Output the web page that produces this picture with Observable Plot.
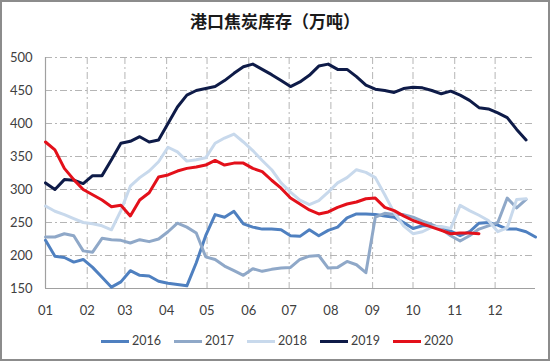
<!DOCTYPE html>
<html><head><meta charset="utf-8">
<script src="https://cdn.jsdelivr.net/npm/d3@7"></script>
<script src="https://cdn.jsdelivr.net/npm/@observablehq/plot@0.6"></script>
<style>
body{margin:0;background:#fff;}
#page{position:relative;width:550px;height:361px;overflow:hidden;background:#fff;font-family:Lato,"Noto Sans",sans-serif;}
#border{position:absolute;left:0;top:0;width:550px;height:361px;box-sizing:border-box;border:2px solid #8c8c8c;pointer-events:none;}
#title{position:absolute;top:11px;left:0;width:550px;text-align:center;font:bold 17px/20px "Noto Sans CJK SC",sans-serif;color:#1a1a1a;}
#chart{position:absolute;top:40px;left:0;}
#legend{position:absolute;top:333px;left:2px;width:550px;display:flex;justify-content:center;gap:13px;font:12.5px/16px Lato,"Noto Sans",sans-serif;color:#404040;}
.item{display:flex;align-items:center;}
.sw{width:28px;height:3px;margin-right:3px;}
</style></head>
<body><div id="page"><div id="title"></div><div id="chart"></div><div id="legend"></div><div id="border"></div></div>
<script>
const titleText = "港口焦炭库存（万吨）";
const seriesNames = ["2016","2017","2018","2019","2020"];
const seriesColors = ["#4f80c0","#8fa8c8","#c8d9ec","#0e1b48","#e3101a"];
const monthLabels = ["01","02","03","04","05","06","07","08","09","10","11","12"];
const yTicks = [150,200,250,300,350,400,450,500];

// weekly values (week 0 = Jan 1)
const v2016 = [223,199,197,190,194,182,167,152,160,177,170,169,161,158,156,154,189,230,262,258,267,248,243,240,240,239,230,229,239,230,238,243,257,263,263,262,260,258,250,241,245,245,243,237,230,236,249,250,246,240,240,236,228];
const v2017 = [228,228,233,230,207,205,226,224,223,219,224,221,225,236,249,243,234,198,194,184,177,170,180,176,179,181,182,194,199,200,181,182,191,186,174,258,264,262,262,258,252,247,240,230,222,230,240,245,250,287,272,285];
const v2018 = [275,267,262,256,250,248,245,239,268,305,318,328,342,364,357,343,345,348,370,378,384,372,359,344,330,310,296,284,277,283,296,310,318,330,326,318,292,265,245,233,236,243,244,241,276,268,261,253,236,242,285,286];
const v2019 = [310,300,315,314,309,321,321,345,370,373,380,372,375,400,425,443,450,453,456,465,476,486,490,482,474,465,456,463,473,487,490,482,482,471,458,452,450,447,453,455,454,450,445,449,443,435,424,422,416,409,391,375];
const v2020 = [372,360,332,315,300,292,284,274,276,260,284,295,319,322,328,332,334,337,344,337,340,340,332,327,314,302,287,278,269,263,266,273,278,281,286,287,273,268,260,253,248,243,238,233,234,234,233];

const valueLists = [v2016, v2017, v2018, v2019, v2020];
const dayMs = 86400000;
const yearStart = Date.UTC(2019,0,1);
const table = [];
seriesNames.forEach((s, k) => {
  valueLists[k].forEach((v, i) => table.push({series: s, date: new Date(yearStart + i*7*dayMs), value: v}));
});
const monthDates = monthLabels.map((m, i) => new Date(Date.UTC(2019, i, 1)));
const xStart = new Date(yearStart), xEnd = new Date(Date.UTC(2019,11,31));

document.getElementById("title").textContent = titleText;

const chart = Plot.plot({
  width: 550, height: 285,
  marginTop: 17, marginBottom: 37, marginLeft: 45, marginRight: 15,
  style: {fontFamily: "Lato, 'Noto Sans', sans-serif", fontSize: "13px", color: "#404040", background: "transparent"},
  x: {type: "utc", domain: [xStart, xEnd]},
  y: {domain: [150, 500]},
  color: {domain: seriesNames, range: seriesColors},
  marks: [
    Plot.gridY(yTicks.slice(1), {stroke: "#b5b5b5", strokeOpacity: 1, strokeDasharray: "7,3,2,3"}),
    Plot.gridX(monthDates.slice(1), {stroke: "#b5b5b5", strokeOpacity: 1, strokeDasharray: "7,3,2,3"}),
    Plot.ruleY([150], {stroke: "#a0a0a0", strokeWidth: 1.2}),
    Plot.ruleX([xStart], {stroke: "#a0a0a0", strokeWidth: 1.2}),
    Plot.axisY(yTicks, {tickSize: 0, tickPadding: 13, label: null, fontSize: 13}),
    Plot.axisX(monthDates, {tickSize: 0, tickPadding: 17, label: null, fontSize: 13, tickFormat: d => monthLabels[d.getUTCMonth()]}),
    Plot.line(table, {x: "date", y: "value", z: "series", stroke: "series", strokeWidth: 3, strokeLinejoin: "round"})
  ]
});
document.getElementById("chart").appendChild(chart);

const legend = document.getElementById("legend");
seriesNames.forEach((s, k) => {
  const it = document.createElement("div"); it.className = "item";
  const sw = document.createElement("div"); sw.className = "sw"; sw.style.background = seriesColors[k];
  const tx = document.createElement("span"); tx.textContent = s;
  it.appendChild(sw); it.appendChild(tx); legend.appendChild(it);
});
</script></body></html>
